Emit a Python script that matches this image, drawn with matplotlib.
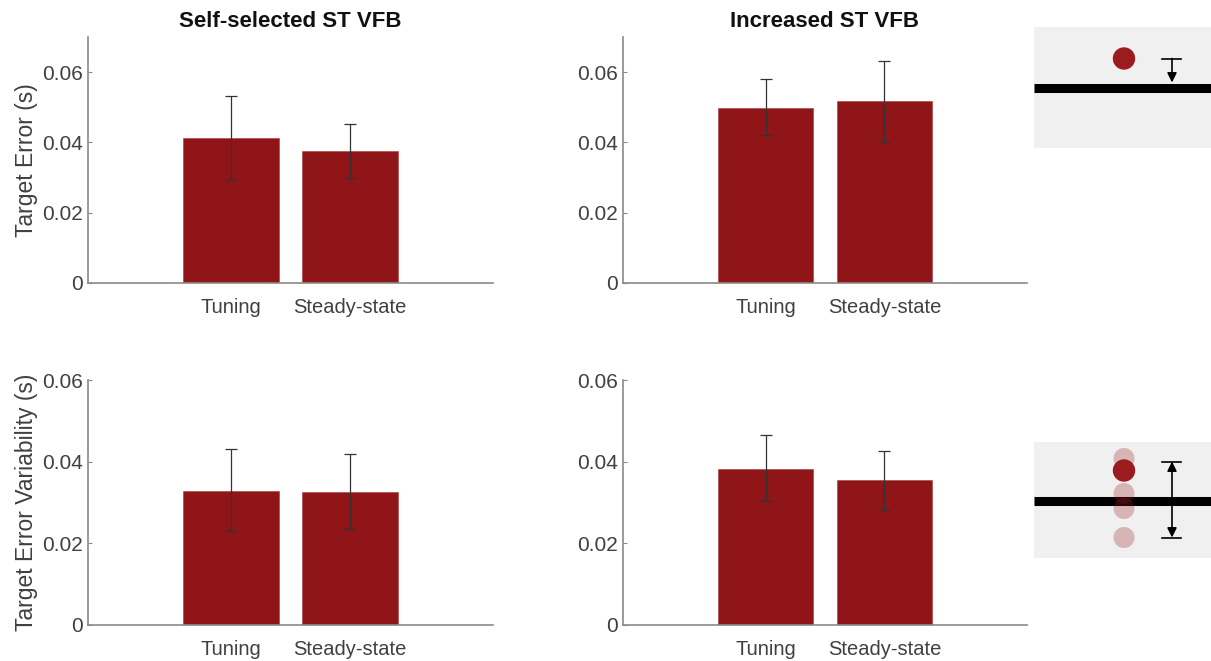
import matplotlib
matplotlib.use("Agg")
import matplotlib.pyplot as plt
from matplotlib.patches import Rectangle, Circle

plt.rcParams['font.family'] = ['Liberation Sans', 'DejaVu Sans']

# ---- data ----
conditions = ["Tuning", "Steady-state"]
titles = ["Self-selected ST VFB", "Increased ST VFB"]
ylabels = ["Target Error (s)", "Target Error Variability (s)"]

err_self_mean = [0.0412, 0.0375]
err_self_upper = [0.0533, 0.0452]
err_self_lower = [0.0292, 0.0299]

err_incr_mean = [0.0499, 0.0517]
err_incr_upper = [0.0581, 0.0633]
err_incr_lower = [0.0422, 0.0401]

var_self_mean = [0.0329, 0.0326]
var_self_upper = [0.0430, 0.0420]
var_self_lower = [0.0229, 0.0234]

var_incr_mean = [0.0383, 0.0354]
var_incr_upper = [0.0465, 0.0427]
var_incr_lower = [0.0303, 0.0282]

row_ylim = [0.07, 0.06]
yticks = [0, 0.02, 0.04, 0.06]
ytick_labels = ["0", "0.02", "0.04", "0.06"]

BAR = "#8f1518"
AXC = "#8a8a8a"
TXT = "#404040"

W, H = 1211, 661
fig = plt.figure(figsize=(W / 100, H / 100), dpi=100)


def px_axes(x0, y0, x1, y1):
    """Axes from pixel box (top-left origin)."""
    return fig.add_axes([x0 / W, 1 - y1 / H, (x1 - x0) / W, (y1 - y0) / H])


boxes = [
    [(88, 37, 493, 283), (623, 37, 1027, 283)],
    [(88, 380, 493, 625), (623, 380, 1027, 625)],
]
data = [
    [(err_self_mean, err_self_upper, err_self_lower),
     (err_incr_mean, err_incr_upper, err_incr_lower)],
    [(var_self_mean, var_self_upper, var_self_lower),
     (var_incr_mean, var_incr_upper, var_incr_lower)],
]

xpos = [1, 2]
for r in range(2):
    for c in range(2):
        ax = px_axes(*boxes[r][c])
        mean, upper, lower = data[r][c]
        ax.bar(xpos, mean, width=0.8, color=BAR, edgecolor="#a83a3a",
               linewidth=0.4, zorder=2)
        yerr = [[m - lo for m, lo in zip(mean, lower)],
                [u - m for m, u in zip(mean, upper)]]
        ax.errorbar(xpos, mean, yerr=yerr, fmt="none", ecolor="#333333",
                    elinewidth=0.9, capsize=4, capthick=0.9, zorder=3)
        ax.set_xlim(-0.2, 3.2)
        ax.set_ylim(0, row_ylim[r])
        ax.set_yticks(yticks)
        ax.set_yticklabels(ytick_labels)
        ax.set_xticks(xpos)
        ax.set_xticklabels(conditions)
        for side in ("top", "right"):
            ax.spines[side].set_visible(False)
        for side in ("left", "bottom"):
            ax.spines[side].set_color(AXC)
            ax.spines[side].set_linewidth(1.2)
        ax.tick_params(axis="both", direction="in", length=3, width=0.8,
                       color=AXC, labelcolor=TXT, labelsize=14.5)
        ax.tick_params(axis="x", pad=10.5, length=0)
        ax.tick_params(axis="y", pad=3.5)
        ax.set_yticklabels(ytick_labels, fontsize=15)
        if r == 0:
            ax.set_title(titles[c], fontsize=16, fontweight="bold",
                         color="#111111", pad=7)
        if c == 0:
            ax.set_ylabel(ylabels[r], fontsize=16.5, color=TXT, labelpad=3)

# ---- schematic insets on the right ----
DOT = "#9a1c1f"


def inset(y0, y1):
    a = px_axes(1034, y0, 1211, y1)
    a.set_xlim(0, 177)
    a.set_ylim(y1 - y0, 0)
    a.axis("off")
    a.add_patch(Rectangle((0, 0), 177, y1 - y0, color="#f0f0f0", zorder=0))
    return a


# target error: one dot above the target line, arrow down to the line
a1 = inset(27, 148)
a1.plot([0, 177], [61, 61], color="black", lw=6.5, solid_capstyle="butt", zorder=2)
a1.add_patch(Circle((90, 31.5), 10.5, color=DOT, zorder=3))
a1.plot([128, 147], [31.5, 31.5], color="black", lw=1.2, zorder=3)
a1.annotate("", xy=(138, 55.5), xytext=(138, 31.5),
            arrowprops=dict(arrowstyle="-|>", color="black", lw=1.2,
                            mutation_scale=14, shrinkA=0, shrinkB=0), zorder=3)

# target error variability: spread of dots with a double-headed arrow
a2 = inset(442, 558)
a2.plot([0, 177], [59, 59], color="black", lw=6.5, solid_capstyle="butt", zorder=2)
for yy in (16.5, 51.5, 66.5, 95.5):
    a2.add_patch(Circle((90, yy), 10.5, color=DOT, alpha=0.28, lw=0, zorder=3))
a2.add_patch(Circle((90, 28.5), 10.5, color=DOT, zorder=4))
a2.plot([128, 147], [19.5, 19.5], color="black", lw=1.2, zorder=3)
a2.plot([128, 147], [95.5, 95.5], color="black", lw=1.2, zorder=3)
a2.annotate("", xy=(138, 19.5), xytext=(138, 95.5),
            arrowprops=dict(arrowstyle="<|-|>", color="black", lw=1.2,
                            mutation_scale=14, shrinkA=0, shrinkB=0), zorder=3)

fig.savefig("out.png", dpi=100, facecolor="white")
